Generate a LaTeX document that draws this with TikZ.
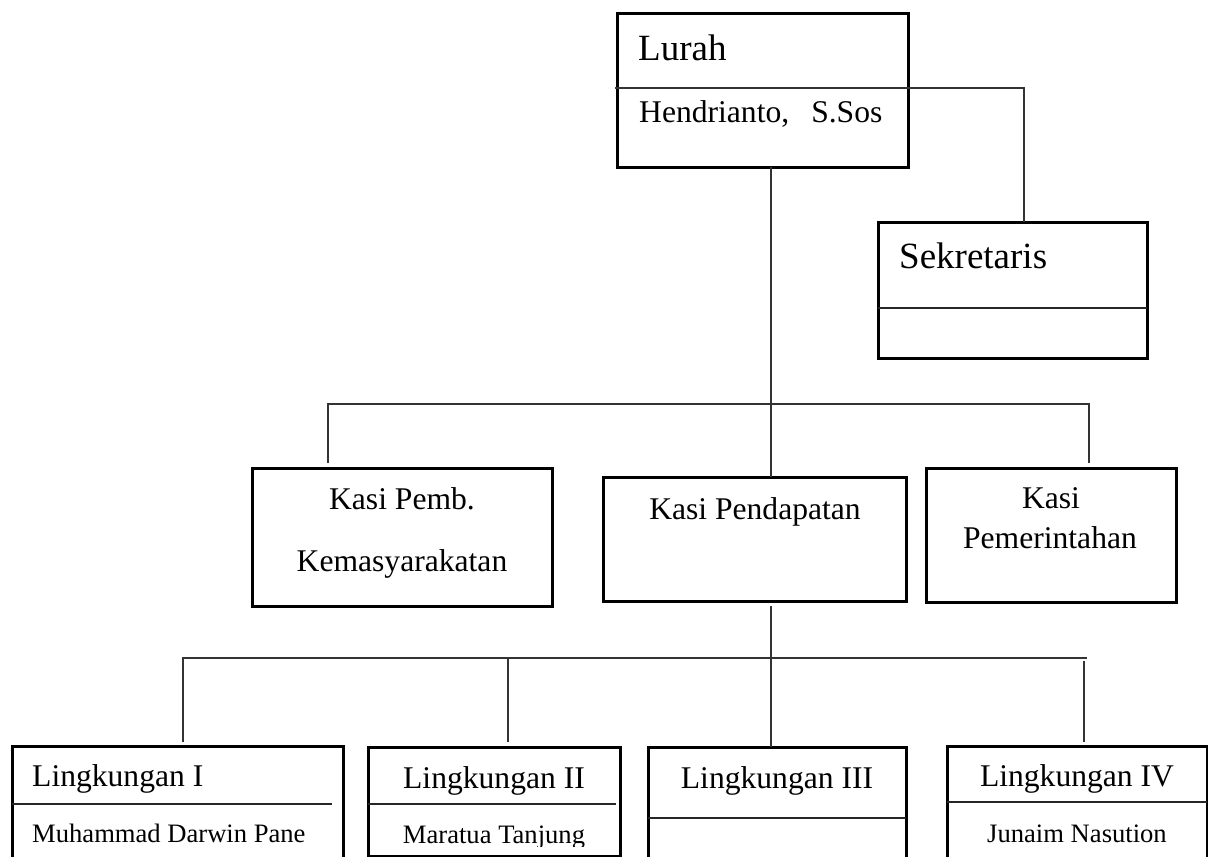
\documentclass[tikz,border=0pt]{standalone}
\usepackage{fontspec}
\setmainfont{Liberation Serif}
\tikzset{
  box/.style={draw, line width=3pt, inner sep=0pt, outer sep=0pt, anchor=north west},
  link/.style={line width=1.5pt, draw=black!80},
  divline/.style={line width=1.5pt, draw=black!85},
  bigtxt/.style={font=\fontsize{37}{40}\selectfont, inner sep=0pt},
  midtxt/.style={font=\fontsize{31.6}{36}\selectfont, inner sep=0pt},
  smalltxt/.style={font=\fontsize{26.6}{30}\selectfont, inner sep=0pt},
}
\begin{document}
\begin{tikzpicture}[x=1pt,y=-1pt]
\useasboundingbox (0,0) rectangle (1208,857);
\clip (0,0) rectangle (1208,857);
% boxes
\node[box, minimum width=291pt, minimum height=154pt] (lurah) at (617,13) {};
\node[box, minimum width=269pt, minimum height=136pt] (sek) at (878,222) {};
\node[box, minimum width=300pt, minimum height=138pt] (pemb) at (252,468) {};
\node[box, minimum width=303pt, minimum height=124pt] (pend) at (603,477) {};
\node[box, minimum width=250pt, minimum height=134pt] (pemr) at (926,468) {};
\node[box, minimum width=331pt, minimum height=140pt] (l1) at (12,746) {};
\node[box, minimum width=252pt, minimum height=109pt] (l2) at (368,747) {};
\node[box, minimum width=258pt, minimum height=140pt] (l3) at (648,747) {};
\node[box, minimum width=260pt, minimum height=140pt] (l4) at (947,746) {};
% coordinates
\coordinate (sj) at (1024,88);
\coordinate (sd) at (0,308);
\coordinate (t1) at (771,404);
\coordinate (hl) at (328,404);
\coordinate (hr) at (1089,404);
\coordinate (b1) at (771,658);
\coordinate (bl) at (183,658);
\coordinate (b2) at (508,658);
\coordinate (b4) at (1084,658);
\coordinate (br) at (1087,658);
\coordinate (d1) at (0,804);
\coordinate (d3) at (0,818);
\coordinate (d4) at (0,802);
% dividers
\draw[link] ([xshift=-2pt]lurah.west |- sj) -- (sj) -- (sj |- sek.north);
\draw[divline] (sek.west |- sd) -- (sek.east |- sd);
\draw[divline] (l1.west |- d1) -- ([xshift=-11pt]l1.east |- d1);
\draw[divline] (l2.west |- d1) -- ([xshift=-4pt]l2.east |- d1);
\draw[divline] (l3.west |- d3) -- (l3.east |- d3);
\draw[divline] (l4.west |- d4) -- (l4.east |- d4);
% connectors
\draw[link] (lurah.south -| t1) -- (pend.north -| t1);
\draw[link] ([yshift=5pt]pemb.north -| hl) -- (hl) -- (hr) -- ([yshift=5pt]pemr.north -| hr);
\draw[link] ([yshift=-5pt]pend.south -| b1) -- (l3.north -| b1);
\draw[link] ([yshift=4pt]l1.north -| bl) -- (bl) -- (br);
\draw[link] (b2) -- ([yshift=5pt]l2.north -| b2);
\draw[link] ([yshift=-3pt]b4) -- ([yshift=4pt]l4.north -| b4);
% texts
\node[bigtxt, anchor=base west] (tlurah) at (638,60) {Lurah};
\node[midtxt, anchor=base west] (thend) at (639,122) {Hendrianto,\hspace{22pt}S.Sos};
\node[bigtxt, anchor=base west] (tsek) at (899,268) {Sekretaris};
\node[midtxt, anchor=base] (tpemb1) at (402,509) {Kasi Pemb.};
\node[midtxt, anchor=base] (tpemb2) at (402,571) {Kemasyarakatan};
\node[midtxt, anchor=base] (tpend) at (755,519) {Kasi Pendapatan};
\node[midtxt, anchor=base] (tpemr1) at (1051,508) {Kasi};
\node[midtxt, anchor=base] (tpemr2) at (1050,548) {Pemerintahan};
\node[midtxt, anchor=base west] (tl1) at (32,786) {Lingkungan I};
\node[smalltxt, anchor=base west] (tn1) at (32,842) {Muhammad Darwin Pane};
\node[midtxt, anchor=base] (tl2) at (494,788) {Lingkungan II};
\begin{scope}
\clip (360,700) rectangle (630,846);
\node[smalltxt, anchor=base] (tn2) at (494,843) {Maratua Tanjung};
\end{scope}
\node[midtxt, anchor=base] (tl3) at (777,788) {Lingkungan III};
\node[midtxt, anchor=base] (tl4) at (1077,786) {Lingkungan IV};
\node[smalltxt, anchor=base] (tn4) at (1077,842) {Junaim Nasution};
\end{tikzpicture}
\end{document}
